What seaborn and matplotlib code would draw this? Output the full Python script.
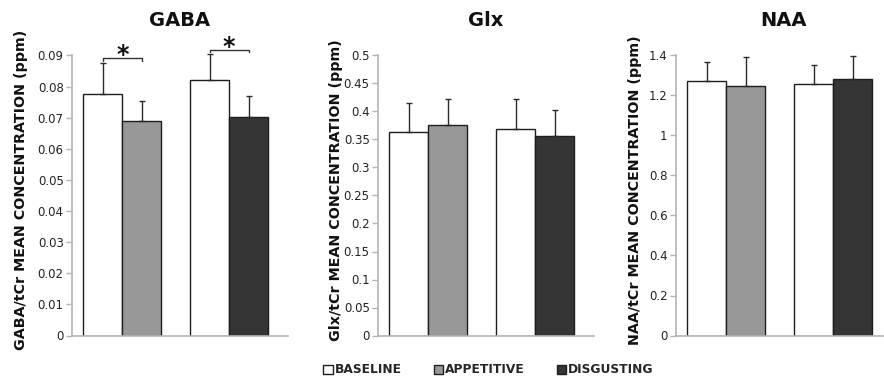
import numpy as np
import pandas as pd
import seaborn as sns
import matplotlib.pyplot as plt
from matplotlib.patches import Patch

metabolites = ["GABA", "Glx", "NAA"]
sessions = ["Appetitive session", "Disgusting session"]
slots = ["first", "second"]
conditions = ["BASELINE", "APPETITIVE", "DISGUSTING"]
# bars in each panel: baseline / appetitive, then baseline / disgusting
bar_conditions = ["BASELINE", "APPETITIVE", "BASELINE", "DISGUSTING"]

gaba_mean = [0.0775, 0.0688, 0.0820, 0.0703]
gaba_sd = [0.0100, 0.0067, 0.0085, 0.0067]
glx_mean = [0.363, 0.375, 0.368, 0.356]
glx_sd = [0.052, 0.048, 0.055, 0.046]
naa_mean = [1.270, 1.245, 1.258, 1.282]
naa_sd = [0.095, 0.145, 0.095, 0.116]

gaba_ticks = [0, 0.01, 0.02, 0.03, 0.04, 0.05, 0.06, 0.07, 0.08, 0.09]
glx_ticks = [0, 0.05, 0.1, 0.15, 0.2, 0.25, 0.3, 0.35, 0.4, 0.45, 0.5]
naa_ticks = [0, 0.2, 0.4, 0.6, 0.8, 1, 1.2, 1.4]

# significance brackets on GABA: (session index, bracket level, end tick level)
gaba_sig = [(0, 0.0893, 0.0882), (1, 0.0918, 0.0911)]

colors = {"BASELINE": "white", "APPETITIVE": "#989898", "DISGUSTING": "#353535"}
edge = "#1e1e1e"
axis_grey = "#b4b4b4"

means = [gaba_mean, glx_mean, naa_mean]
sds = [gaba_sd, glx_sd, naa_sd]
ticks = [gaba_ticks, glx_ticks, naa_ticks]

sns.set_style("white")
plt.rcParams["font.family"] = ["DejaVu Sans"]

fig = plt.figure(figsize=(8.84, 3.87), dpi=100)
W, H = 884.0, 387.0
lefts = [72, 378, 676]
label_x = [-0.205, -0.162, -0.157]
ax_w = 216
bottom_px, top_px = 335.5, 55.5

for i, name in enumerate(metabolites):
    ax = fig.add_axes([lefts[i] / W, 1 - bottom_px / H, ax_w / W, (bottom_px - top_px) / H])
    df = pd.DataFrame({
        "session": [sessions[0], sessions[0], sessions[1], sessions[1]],
        "slot": slots * 2,
        "condition": bar_conditions,
        "mean": means[i],
        "sd": sds[i],
    })
    sns.barplot(data=df, x="session", y="mean", hue="slot", order=sessions,
                hue_order=slots, width=0.73, errorbar=None, ax=ax, legend=False,
                edgecolor=edge, linewidth=1.0, saturation=1)

    centers = {}
    bar_containers = list(ax.containers)
    for k, cont in enumerate(bar_containers):
        for bar in cont:
            cx = bar.get_x() + bar.get_width() / 2
            s = int(round(cx))
            row = s * 2 + k
            bar.set_facecolor(colors[df["condition"][row]])
            bar.set_edgecolor(edge)
            centers[row] = cx
            eb = ax.errorbar(cx, bar.get_height(), yerr=[[0], [df["sd"][row]]], fmt="none",
                             ecolor="#2a2a2a", elinewidth=1.0, capsize=2.5, capthick=1.0,
                             zorder=1)
            for art in eb.lines[1] + eb.lines[2]:
                art.set_clip_on(False)

    ax.set_xlim(-0.47, 1.55)
    ax.set_ylim(0, ticks[i][-1])
    ax.set_yticks(ticks[i])
    ax.set_yticklabels([f"{t:g}" for t in ticks[i]])
    ax.set_xticks([])
    ax.set_xlabel("")
    ax.set_ylabel(f"{name}/tCr MEAN CONCENTRATION (ppm)", fontsize=10.3,
                  fontweight="bold", color="#111111")
    ax.yaxis.set_label_coords(label_x[i], 0.52)
    ax.set_title(name, fontsize=14, fontweight="bold", pad=21, color="#111111")
    for side in ["top", "right"]:
        ax.spines[side].set_visible(False)
    for side in ["left", "bottom"]:
        ax.spines[side].set_color(axis_grey)
        ax.spines[side].set_linewidth(1.2)
    ax.tick_params(axis="y", left=True, length=4, width=1, color=axis_grey,
                   labelsize=8.5, labelcolor="#222222", pad=2)

    if name == "GABA":
        for s, y_top, y_tick in gaba_sig:
            x0, x1 = centers[s * 2], centers[s * 2 + 1]
            ax.plot([x0, x0, x1, x1], [y_tick, y_top, y_top, y_tick], color="#333333",
                    lw=1.0, clip_on=False)
            ax.text((x0 + x1) / 2, y_top - 0.0029, "*", ha="center", va="bottom",
                    fontsize=17, fontweight="bold", color="#111111", clip_on=False)

handles = [Patch(facecolor=colors[c], edgecolor=edge, linewidth=1, label=c) for c in conditions]
fig.legend(handles=handles, loc="center", bbox_to_anchor=(0.5526, 0.044), ncol=3,
           frameon=False, handlelength=0.8, handleheight=0.8, handletextpad=0.15,
           columnspacing=2.6, prop=dict(weight="bold", size=8.8))

fig.savefig("out.png", dpi=100)
